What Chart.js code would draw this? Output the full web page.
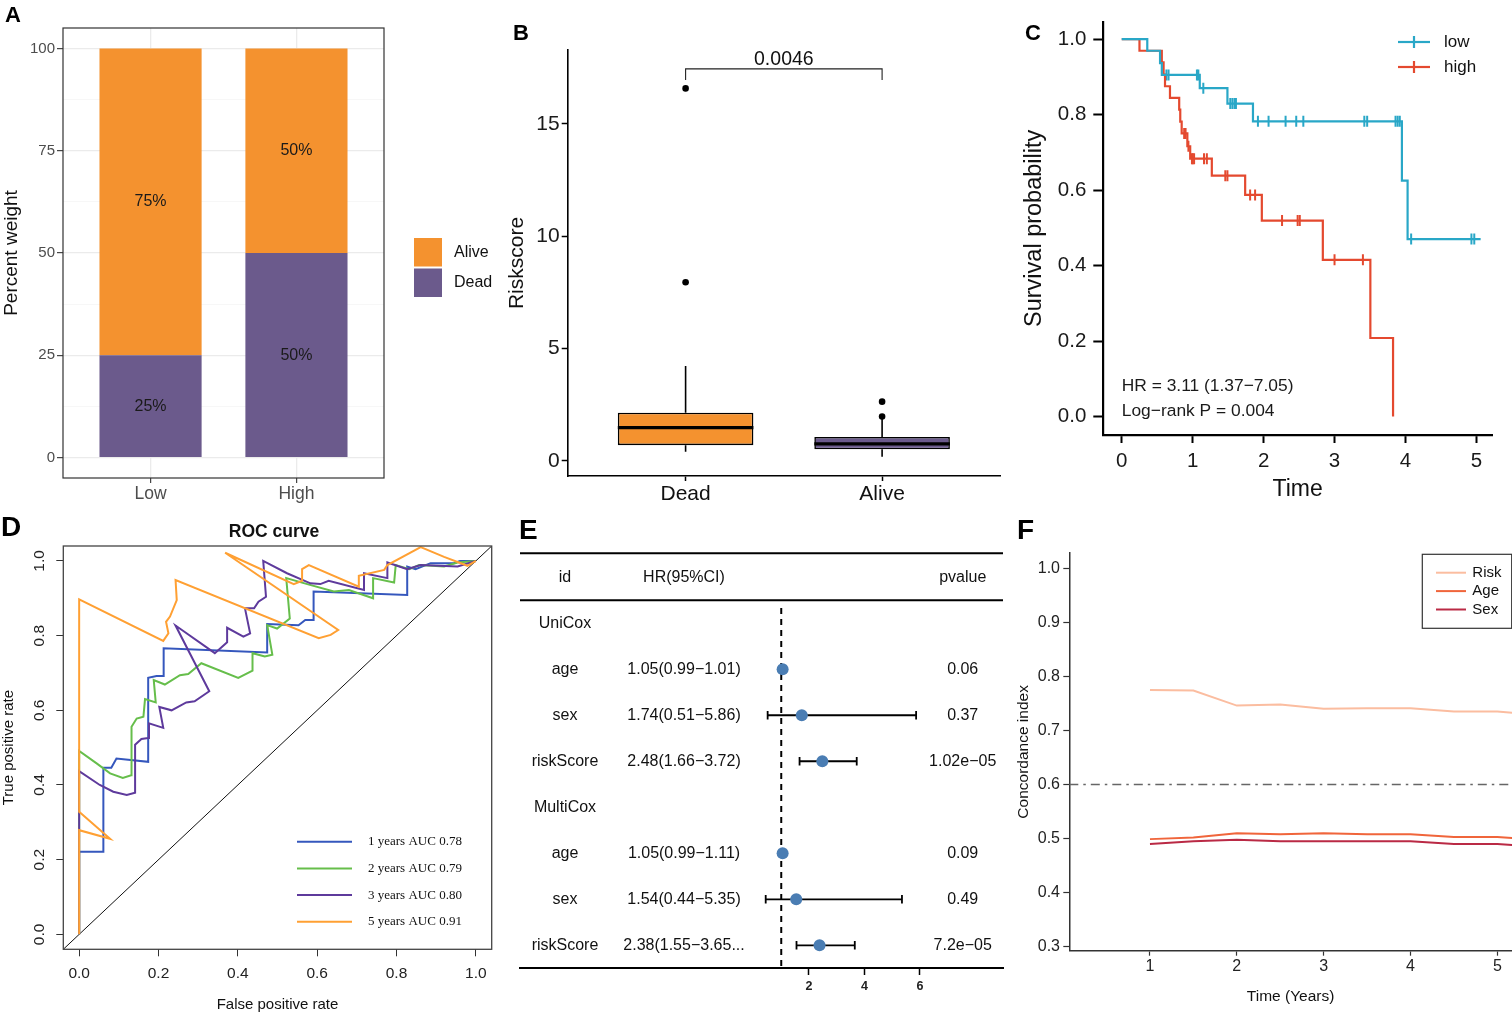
<!DOCTYPE html>
<html>
<head>
<meta charset="utf-8">
<title>Risk model figure</title>
<script src="https://cdn.jsdelivr.net/npm/chart.js@4.4.1/dist/chart.umd.min.js"></script>
<style>
  html, body { margin: 0; padding: 0; background: #fff; }
  #wrap { position: relative; width: 1512px; height: 1014px; overflow: hidden; background: #fff; }
  #wrap canvas { position: absolute; left: 0; top: 0; }
  .tag { position: absolute; font-family: "Liberation Sans", Arial, sans-serif; font-weight: bold; line-height: 1; color: #000; }
</style>
</head>
<body>
<div id="wrap">
  <canvas id="cA" width="1512" height="1014"></canvas>
  <canvas id="cB" width="1512" height="1014"></canvas>
  <canvas id="cC" width="1512" height="1014"></canvas>
  <canvas id="cD" width="1512" height="1014"></canvas>
  <canvas id="cE" width="1512" height="1014"></canvas>
  <canvas id="cF" width="1512" height="1014"></canvas>
  <div class="tag" style="left:5px;top:4px;font-size:22px">A</div>
  <div class="tag" style="left:513px;top:22px;font-size:22px">B</div>
  <div class="tag" style="left:1025px;top:22px;font-size:22px">C</div>
  <div class="tag" style="left:1px;top:513px;font-size:28px">D</div>
  <div class="tag" style="left:519px;top:516px;font-size:28px">E</div>
  <div class="tag" style="left:1017px;top:516px;font-size:28px">F</div>
</div>
<script>
// ---- A: outcome share per risk group ----
const riskGroups = ['Low', 'High'];
const deadPct = [25, 50];
const alivePct = [75, 50];
const pctTicks = [0, 25, 50, 75, 100];

// ---- B: risk score by status ----
const statusGroups = ['Dead', 'Alive'];
const boxLow = [0.41, 0.19];
const boxQ1 = [0.70, 0.52];
const boxMedian = [1.48, 0.76];
const boxQ3 = [2.15, 1.07];
const boxHigh = [4.23, 1.88];
const outliersDead = [7.95, 16.58];
const outliersAlive = [1.98, 2.64];
const riskTicks = [0, 5, 10, 15];
const pValueB = '0.0046';

// ---- C: Kaplan-Meier ----
const kmLowTime = [0, 0.36, 0.54, 0.565, 1.10, 1.49, 1.85, 3.95, 4.03, 5.06];
const kmLowSurv = [1, 0.969, 0.936, 0.905, 0.870, 0.829, 0.782, 0.625, 0.470, 0.470];
const kmLowCens = [0.63, 0.66, 1.06, 1.08, 1.15, 1.53, 1.56, 1.59, 1.61, 1.92, 2.07, 2.31, 2.46, 2.56, 3.42, 3.46, 3.86, 3.89, 3.92, 4.08, 4.93, 4.97];
const kmHighTime = [0, 0.25, 0.565, 0.59, 0.61, 0.68, 0.81, 0.825, 0.845, 0.925, 0.965, 1.27, 1.74, 1.975, 2.835, 3.505, 3.825];
const kmHighSurv = [1, 0.969, 0.938, 0.906, 0.875, 0.844, 0.813, 0.781, 0.750, 0.716, 0.683, 0.638, 0.587, 0.519, 0.415, 0.208, 0];
const kmHighCens = [0.88, 0.90, 0.94, 0.99, 1.00, 1.02, 1.16, 1.20, 1.46, 1.49, 1.81, 1.88, 2.26, 2.48, 2.51, 3.00, 3.40];
const kmTicksX = [0, 1, 2, 3, 4, 5];
const kmTicksY = [0, 0.2, 0.4, 0.6, 0.8, 1.0];
const kmLegend = ['low', 'high'];
const kmStats = ['HR = 3.11 (1.37\u22127.05)', 'Log\u2212rank P = 0.004'];

// ---- D: ROC ----
const roc1Fpr = [0, 0, 0.061, 0.061, 0.081, 0.094, 0.174, 0.174, 0.195, 0.213, 0.213, 0.474, 0.474, 0.553, 0.570, 0.591, 0.591, 0.827, 0.827, 0.848, 0.886, 0.945, 0.960, 1];
const roc1Tpr = [0, 0.221, 0.221, 0.446, 0.446, 0.471, 0.462, 0.687, 0.692, 0.692, 0.766, 0.755, 0.831, 0.828, 0.842, 0.842, 0.918, 0.909, 0.985, 0.978, 0.994, 0.994, 1.0, 1.0];
const roc2Fpr = [0, 0, 0.044, 0.078, 0.110, 0.131, 0.132, 0.145, 0.162, 0.166, 0.193, 0.188, 0.216, 0.254, 0.275, 0.308, 0.401, 0.437, 0.437, 0.468, 0.487, 0.474, 0.499, 0.531, 0.522, 0.575, 0.642, 0.680, 0.741, 0.741, 0.794, 0.798, 0.832, 0.857, 0.920, 0.954, 1];
const roc2Tpr = [0, 0.491, 0.458, 0.431, 0.419, 0.426, 0.556, 0.578, 0.583, 0.630, 0.621, 0.681, 0.669, 0.694, 0.697, 0.726, 0.687, 0.706, 0.753, 0.744, 0.749, 0.828, 0.819, 0.846, 0.954, 0.938, 0.918, 0.922, 0.900, 0.954, 0.942, 0.989, 0.978, 0.989, 0.985, 0.996, 1];
const roc3Fpr = [0, 0, 0, 0.052, 0.086, 0.120, 0.141, 0.141, 0.157, 0.174, 0.176, 0.212, 0.202, 0.233, 0.270, 0.291, 0.328, 0.243, 0.342, 0.373, 0.373, 0.414, 0.431, 0.418, 0.441, 0.452, 0.471, 0.464, 0.524, 0.583, 0.608, 0.629, 0.718, 0.718, 0.777, 0.777, 0.827, 0.861, 0.954, 1];
const roc3Tpr = [0, 0.283, 0.437, 0.400, 0.382, 0.373, 0.379, 0.508, 0.523, 0.526, 0.565, 0.553, 0.609, 0.600, 0.621, 0.624, 0.651, 0.827, 0.753, 0.782, 0.821, 0.797, 0.806, 0.873, 0.873, 0.891, 0.904, 1.0, 0.967, 0.940, 0.938, 0.947, 0.922, 0.967, 0.954, 0.996, 0.978, 0.989, 0.985, 1];
const roc5Fpr = [0, 0, 0.078, 0, 0, 0.212, 0.225, 0.219, 0.229, 0.246, 0.243, 0.604, 0.634, 0.653, 0.368, 0.541, 0.562, 0.562, 0.579, 0.705, 0.705, 0.769, 0.777, 0.861, 0.920, 0.979, 1];
const roc5Tpr = [0, 0.279, 0.256, 0.328, 0.897, 0.786, 0.806, 0.837, 0.851, 0.895, 0.949, 0.793, 0.802, 0.815, 1.022, 0.938, 0.947, 0.978, 0.989, 0.931, 0.960, 0.976, 0.989, 1.037, 1.011, 0.987, 1];
const rocLabels = ['1 years AUC 0.78', '2 years AUC 0.79', '3 years AUC 0.80', '5 years AUC 0.91'];
const rocTicks = [0, 0.2, 0.4, 0.6, 0.8, 1.0];

// ---- E: Cox forest ----
const coxSections = ['UniCox', 'MultiCox'];
const coxVars = ['age', 'sex', 'riskScore'];
const uniHR = [1.05, 1.74, 2.48];
const uniLo = [0.99, 0.51, 1.66];
const uniHi = [1.01, 5.86, 3.72];
const uniHRText = ['1.05(0.99\u22121.01)', '1.74(0.51\u22125.86)', '2.48(1.66\u22123.72)'];
const uniP = ['0.06', '0.37', '1.02e\u221205'];
const multiHR = [1.05, 1.54, 2.38];
const multiLo = [0.99, 0.44, 1.55];
const multiHi = [1.11, 5.35, 3.65];
const multiHRText = ['1.05(0.99\u22121.11)', '1.54(0.44\u22125.35)', '2.38(1.55\u22123.65...'];
const multiP = ['0.09', '0.49', '7.2e\u221205'];
const hrTicks = [2, 4, 6];

// ---- F: concordance over time ----
const cTimes = [1, 1.5, 2, 2.5, 3, 3.5, 4, 4.5, 5, 5.5];
const cRisk = [0.775, 0.774, 0.746, 0.748, 0.740, 0.741, 0.741, 0.735, 0.735, 0.729];
const cAge = [0.499, 0.502, 0.510, 0.508, 0.510, 0.508, 0.508, 0.503, 0.503, 0.497];
const cSex = [0.490, 0.495, 0.498, 0.495, 0.495, 0.495, 0.495, 0.490, 0.490, 0.484];
const cTicksX = [1, 2, 3, 4, 5];
const cTicksY = [0.3, 0.4, 0.5, 0.6, 0.7, 0.8, 0.9, 1.0];
const cLabels = ['Risk', 'Age', 'Sex'];
const cIndexRef = 0.6;

// ---------------------------------------------------------------
const W = 1512, H = 1014;
const SANS = '"Liberation Sans", Arial, Helvetica, sans-serif';
const SERIF = '"Liberation Serif", "Times New Roman", serif';
Chart.defaults.font.family = SANS;
Chart.defaults.color = '#222';
Chart.defaults.animation = false;
Chart.defaults.responsive = false;
Chart.defaults.plugins.legend.display = false;
Chart.defaults.plugins.tooltip.enabled = false;

const ORANGE = '#F4922F', PURPLE = '#6B5A8C';
const CYAN = '#29A7C7', RED = '#E4492F';
const ROC_COLORS = ['#3557BD', '#66BE4B', '#5E3A9C', '#FFA033'];
const F_COLORS = ['#FBBDA0', '#F0653B', '#BA2A45'];

// every canvas covers the whole page, the chart area is pinned with padding + fixed axis sizes
function layoutFor(area, yHidden) {
  return { autoPadding: false, padding: { left: yHidden ? area.l : 0, top: area.t, right: W - area.r, bottom: 0 } };
}
const yFit = area => s => { s.width = area.l; };
const xFit = area => s => { s.height = H - area.b; };
const fixedTicks = values => s => { s.ticks = values.map(v => ({ value: v })); };
const xTitle = (text, size, cy) => ({ display: true, text, font: { size }, color: '#111', padding: { top: 0, bottom: H - cy - size * 0.6 } });
const yTitle = (text, size, cx) => ({ display: true, text, font: { size }, color: '#111', padding: { top: Math.max(0, cx - size * 0.6), bottom: 0 } });
const fnt = (size, weight, fam) => `${weight || 'normal'} ${size}px ${fam || SANS}`;

function drawText(ctx, str, x, y, font, o = {}) {
  ctx.save();
  ctx.font = font;
  ctx.fillStyle = o.color || '#000';
  ctx.textAlign = o.align || 'center';
  ctx.textBaseline = o.base || 'middle';
  ctx.translate(x, y);
  if (o.rot) ctx.rotate(o.rot);
  ctx.fillText(str, 0, 0);
  ctx.restore();
}
function drawLine(ctx, x1, y1, x2, y2, color, width, dash) {
  ctx.save();
  ctx.strokeStyle = color;
  ctx.lineWidth = width;
  if (dash) ctx.setLineDash(dash);
  ctx.beginPath();
  ctx.moveTo(x1, y1);
  ctx.lineTo(x2, y2);
  ctx.stroke();
  ctx.restore();
}
function survAt(times, surv, t) {
  let s = surv[0];
  times.forEach((tt, i) => { if (tt <= t) s = surv[i]; });
  return s;
}

// ================= A =================
const areaA = { l: 63, t: 28, r: 384, b: 478 };
const minorA = pctTicks.slice(1).map((v, i) => (v + pctTicks[i]) / 2);
const isMajorA = v => pctTicks.includes(v);
new Chart(document.getElementById('cA'), {
  type: 'bar',
  data: {
    datasets: [
      { label: 'Dead', data: riskGroups.map((g, i) => ({ x: i + 1, y: [0, deadPct[i]] })), backgroundColor: PURPLE },
      { label: 'Alive', data: riskGroups.map((g, i) => ({ x: i + 1, y: [deadPct[i], deadPct[i] + alivePct[i]] })), backgroundColor: ORANGE }
    ]
  },
  options: {
    layout: layoutFor(areaA),
    datasets: { bar: { grouped: false, barPercentage: 0.7, categoryPercentage: 1, borderWidth: 0 } },
    scales: {
      x: {
        type: 'linear', min: 0.4, max: 2.6, offset: false,
        afterFit: xFit(areaA), afterBuildTicks: fixedTicks(riskGroups.map((g, i) => i + 1)),
        ticks: { callback: v => riskGroups[v - 1], color: '#4D4D4D', font: { size: 17.5 }, padding: 0.5, maxRotation: 0, autoSkip: false },
        grid: { offset: false, color: '#EBEBEB', lineWidth: 1.3, tickColor: '#333', tickLength: 5, tickWidth: 1.1 },
        border: { display: false }
      },
      y: {
        min: -5, max: 105,
        afterFit: yFit(areaA), afterBuildTicks: fixedTicks([...pctTicks, ...minorA].sort((a, b) => a - b)),
        ticks: { callback: v => (isMajorA(v) ? String(v) : ''), color: '#4D4D4D', font: { size: 15 }, padding: 2, autoSkip: false },
        grid: {
          color: c => (c.tick && isMajorA(c.tick.value) ? '#EBEBEB' : '#F3F3F3'),
          lineWidth: c => (c.tick && isMajorA(c.tick.value) ? 1.3 : 0.7),
          tickColor: c => (c.tick && isMajorA(c.tick.value) ? '#333' : 'rgba(0,0,0,0)'),
          tickLength: 6, tickWidth: 1.1
        },
        border: { display: false },
        title: yTitle('Percent weight', 19, 12)
      }
    }
  },
  plugins: [{
    id: 'panelA',
    afterDatasetsDraw(chart) {
      const { ctx, chartArea: a, scales: { x, y } } = chart;
      riskGroups.forEach((g, i) => {
        const cx = x.getPixelForValue(i + 1);
        drawText(ctx, deadPct[i] + '%', cx, y.getPixelForValue(deadPct[i] / 2), fnt(16), { color: '#1a1a1a' });
        drawText(ctx, alivePct[i] + '%', cx, y.getPixelForValue(deadPct[i] + alivePct[i] / 2), fnt(16), { color: '#1a1a1a' });
      });
      ctx.save();
      ctx.strokeStyle = '#333';
      ctx.lineWidth = 1.2;
      ctx.strokeRect(a.left, a.top, a.right - a.left, a.bottom - a.top);
      ctx.restore();
      const lx = a.right + 30;
      [chart.data.datasets[1], chart.data.datasets[0]].forEach((ds, i) => {
        const top = 238 + i * 30.5;
        ctx.fillStyle = ds.backgroundColor;
        ctx.fillRect(lx, top, 28, 28.5);
        drawText(ctx, ds.label, lx + 40, top + 14.5, fnt(16), { align: 'left', color: '#111' });
      });
    }
  }]
});

// ================= B =================
const areaB = { l: 567.7, t: 50, r: 1000, b: 476 };
const whiskerPts = [];
statusGroups.forEach((g, i) => {
  whiskerPts.push({ x: i + 1, y: boxQ3[i] }, { x: i + 1, y: boxHigh[i] }, { x: i + 1, y: null },
                  { x: i + 1, y: boxQ1[i] }, { x: i + 1, y: boxLow[i] }, { x: i + 1, y: null });
});
new Chart(document.getElementById('cB'), {
  type: 'bar',
  data: {
    datasets: [
      {
        type: 'bar', data: statusGroups.map((g, i) => ({ x: i + 1, y: [boxQ1[i], boxQ3[i]] })),
        backgroundColor: [ORANGE, PURPLE], borderColor: '#000', borderWidth: 1.6, borderSkipped: false,
        grouped: false, barPercentage: 0.69, categoryPercentage: 1, order: 1
      },
      { type: 'line', data: whiskerPts, borderColor: '#000', borderWidth: 1.6, pointRadius: 0, spanGaps: false, order: 2 },
      {
        type: 'line', showLine: false, order: 0,
        data: [...outliersDead.map(v => ({ x: 1, y: v })), ...outliersAlive.map(v => ({ x: 2, y: v }))],
        pointRadius: 3.3, pointBackgroundColor: '#000', pointBorderWidth: 0
      }
    ]
  },
  options: {
    layout: layoutFor(areaB),
    scales: {
      x: {
        type: 'linear', min: 0.4, max: 2.6, offset: false,
        afterFit: xFit(areaB), afterBuildTicks: fixedTicks(statusGroups.map((g, i) => i + 1)),
        ticks: { callback: v => statusGroups[v - 1], color: '#111', font: { size: 21 }, padding: 0.4, maxRotation: 0, autoSkip: false },
        grid: { offset: false, drawOnChartArea: false, tickColor: '#000', tickLength: 5, tickWidth: 1.5 },
        border: { color: '#000', width: 1.6 }
      },
      y: {
        min: -0.67, max: 18.29,
        afterFit: yFit(areaB), afterBuildTicks: fixedTicks(riskTicks),
        ticks: { color: '#1a1a1a', font: { size: 21 }, padding: 2 },
        grid: { drawOnChartArea: false, tickColor: '#000', tickLength: 6, tickWidth: 1.5 },
        border: { color: '#000', width: 1.6 },
        title: yTitle('Riskscore', 21, 517)
      }
    }
  },
  plugins: [{
    id: 'panelB',
    afterDatasetsDraw(chart) {
      const { ctx, scales: { x, y } } = chart;
      chart.getDatasetMeta(0).data.forEach((bar, i) => {
        const p = bar.getProps(['x', 'width'], true);
        const my = y.getPixelForValue(boxMedian[i]);
        drawLine(ctx, p.x - p.width / 2, my, p.x + p.width / 2, my, '#000', 3.2);
      });
      const x1 = x.getPixelForValue(1), x2 = x.getPixelForValue(2);
      const yb = y.getPixelForValue(17.45), yt = y.getPixelForValue(16.95);
      ctx.save();
      ctx.strokeStyle = '#222';
      ctx.lineWidth = 1.1;
      ctx.beginPath();
      ctx.moveTo(x1, yt); ctx.lineTo(x1, yb); ctx.lineTo(x2, yb); ctx.lineTo(x2, yt);
      ctx.stroke();
      ctx.restore();
      drawText(ctx, pValueB, (x1 + x2) / 2, yb - 4, fnt(19.5), { base: 'alphabetic', color: '#111' });
    }
  }]
});

// ================= C =================
const areaC = { l: 1103.3, t: 21.7, r: 1492, b: 435 };
const kmLine = (times, surv, color) => ({
  data: times.map((t, i) => ({ x: t, y: surv[i] })), borderColor: color, borderWidth: 2.2, stepped: true, pointRadius: 0
});
const kmCens = (cens, times, surv, color) => ({
  data: cens.map(t => ({ x: t, y: survAt(times, surv, t) })), showLine: false, borderColor: color,
  pointStyle: 'line', pointRotation: 90, pointRadius: 5.5, pointBorderWidth: 2, pointBorderColor: color
});
new Chart(document.getElementById('cC'), {
  type: 'line',
  data: {
    datasets: [
      kmLine(kmLowTime, kmLowSurv, CYAN),
      kmLine(kmHighTime, kmHighSurv, RED),
      kmCens(kmLowCens, kmLowTime, kmLowSurv, CYAN),
      kmCens(kmHighCens, kmHighTime, kmHighSurv, RED)
    ]
  },
  options: {
    layout: layoutFor(areaC),
    scales: {
      x: {
        type: 'linear', min: -0.26, max: 5.22,
        afterFit: xFit(areaC), afterBuildTicks: fixedTicks(kmTicksX),
        ticks: { color: '#1a1a1a', font: { size: 20.5 }, padding: 5.7, maxRotation: 0, autoSkip: false },
        grid: { drawOnChartArea: false, tickColor: '#000', tickLength: 8, tickWidth: 2 },
        border: { color: '#000', width: 2.2 },
        title: xTitle('Time', 23, 490)
      },
      y: {
        min: -0.049, max: 1.046,
        afterFit: yFit(areaC), afterBuildTicks: fixedTicks(kmTicksY),
        ticks: { callback: v => v.toFixed(1), color: '#1a1a1a', font: { size: 20.5 }, padding: 7 },
        grid: { drawOnChartArea: false, tickColor: '#000', tickLength: 10, tickWidth: 2 },
        border: { color: '#000', width: 2.2 },
        title: yTitle('Survival probability', 23.5, 1035)
      }
    }
  },
  plugins: [{
    id: 'panelC',
    afterDraw(chart) {
      const { ctx, chartArea: a, scales: { x } } = chart;
      [CYAN, RED].forEach((col, i) => {
        const yy = 42 + i * 25;
        drawLine(ctx, a.right - 94, yy, a.right - 62, yy, col, 2.2);
        drawLine(ctx, a.right - 78, yy - 6, a.right - 78, yy + 6, col, 2.2);
        drawText(ctx, kmLegend[i], a.right - 48, yy, fnt(17), { align: 'left', color: '#111' });
      });
      kmStats.forEach((s, i) => {
        drawText(ctx, s, x.getPixelForValue(0), 386 + i * 25.7, fnt(17.4), { align: 'left', color: '#1a1a1a' });
      });
    }
  }]
});

// ================= D =================
const areaD = { l: 63.3, t: 546, r: 491.7, b: 949.3 };
const rocRange = [-0.04, 1.04];
const rocSets = [[roc1Fpr, roc1Tpr], [roc2Fpr, roc2Tpr], [roc3Fpr, roc3Tpr], [roc5Fpr, roc5Tpr]];
new Chart(document.getElementById('cD'), {
  type: 'line',
  data: {
    datasets: [
      ...rocSets.map(([fx, ty], k) => ({
        data: fx.map((v, i) => ({ x: v, y: ty[i] })), borderColor: ROC_COLORS[k], borderWidth: 2,
        pointRadius: 0, tension: 0, order: 4 - k
      })),
      { data: rocRange.map(v => ({ x: v, y: v })), borderColor: '#111', borderWidth: 1, pointRadius: 0, order: 5 }
    ]
  },
  options: {
    layout: layoutFor(areaD),
    scales: {
      x: {
        type: 'linear', min: rocRange[0], max: rocRange[1],
        afterFit: xFit(areaD), afterBuildTicks: fixedTicks(rocTicks),
        ticks: { callback: v => v.toFixed(1), color: '#222', font: { size: 15.5 }, padding: 7.7, maxRotation: 0, autoSkip: false },
        grid: { drawOnChartArea: false, tickColor: '#333', tickLength: 7, tickWidth: 1 },
        border: { display: false },
        title: xTitle('False positive rate', 15, 1005)
      },
      y: {
        min: rocRange[0], max: rocRange[1],
        afterFit: yFit(areaD), afterBuildTicks: fixedTicks(rocTicks),
        ticks: { display: false },
        grid: { drawOnChartArea: false, tickColor: '#333', tickLength: 7, tickWidth: 1 },
        border: { display: false },
        title: yTitle('True positive rate', 15, 9)
      }
    }
  },
  plugins: [{
    id: 'panelD',
    afterDraw(chart) {
      const { ctx, chartArea: a, scales: { y } } = chart;
      ctx.save();
      ctx.strokeStyle = '#444';
      ctx.lineWidth = 1.3;
      ctx.strokeRect(a.left, a.top, a.right - a.left, a.bottom - a.top);
      ctx.restore();
      rocTicks.forEach(v => {
        drawText(ctx, v.toFixed(1), a.left - 24, y.getPixelForValue(v), fnt(15.5), { color: '#222', rot: -Math.PI / 2 });
      });
      drawText(ctx, 'ROC curve', (a.left + a.right) / 2 - 3.5, 532, fnt(17.5, 'bold'), { color: '#111' });
      rocLabels.forEach((lab, i) => {
        const yy = 841.7 + i * 26.7;
        drawLine(ctx, 297, yy, 352, yy, ROC_COLORS[i], 2);
        drawText(ctx, lab, 368, yy, fnt(13, 'normal', SERIF), { align: 'left', color: '#111' });
      });
    }
  }]
});

// ================= E =================
const areaE = { l: 520, t: 553.3, r: 1003, b: 968.3 };
const hrRef = 1;
const coxRows = [];
[[uniHR, uniLo, uniHi, uniHRText, uniP], [multiHR, multiLo, multiHi, multiHRText, multiP]].forEach(([hr, lo, hi, txt, p], s) => {
  coxVars.forEach((v, j) => coxRows.push({ row: 2 + s * 4 + j, id: v, hr: hr[j], lo: lo[j], hi: hi[j], txt: txt[j], p: p[j] }));
});
const ciPts = [];
coxRows.forEach(r => ciPts.push({ x: r.lo, y: r.row }, { x: r.hi, y: r.row }, { x: r.hi, y: null }));
new Chart(document.getElementById('cE'), {
  type: 'line',
  data: {
    datasets: [
      { data: coxRows.map(r => ({ x: r.hr, y: r.row })), showLine: false, pointRadius: 6, pointBackgroundColor: '#4A7DB3', pointBorderWidth: 0, order: 0 },
      {
        data: ciPts, borderColor: '#000', borderWidth: 1.8, spanGaps: false, order: 1,
        pointStyle: 'line', pointRotation: 90, pointRadius: 4.3, pointBorderWidth: 1.8, pointBorderColor: '#000'
      },
      { data: [{ x: hrRef, y: 0.67 }, { x: hrRef, y: 8.5 }], borderColor: '#000', borderWidth: 2, borderDash: [6, 5], pointRadius: 0, order: 2 }
    ]
  },
  options: {
    layout: layoutFor(areaE, true),
    scales: {
      x: {
        type: 'linear', min: -8.414, max: 8.991,
        afterFit: xFit(areaE), afterBuildTicks: fixedTicks(hrTicks),
        ticks: { color: '#222', font: { size: 12.5, weight: 'bold' }, padding: 4.3, maxRotation: 0, autoSkip: false },
        grid: { drawOnChartArea: false, tickColor: '#000', tickLength: 6.7, tickWidth: 1.5 },
        border: { color: '#000', width: 2 }
      },
      y: { display: false, reverse: true, min: -0.52, max: 8.5 }
    }
  },
  plugins: [{
    id: 'panelE',
    afterDraw(chart) {
      const { ctx, chartArea: a, scales: { y } } = chart;
      const colId = a.left + 45, colHR = a.left + 164, colP = a.left + 442.7;
      drawLine(ctx, a.left, a.top, a.right, a.top, '#000', 2);
      drawLine(ctx, a.left, y.getPixelForValue(0.5), a.right, y.getPixelForValue(0.5), '#000', 2);
      const F = fnt(16), C = '#111';
      const y0 = y.getPixelForValue(0);
      drawText(ctx, 'id', colId, y0, F, { color: C });
      drawText(ctx, 'HR(95%CI)', colHR, y0, F, { color: C });
      drawText(ctx, 'pvalue', colP, y0, F, { color: C });
      coxSections.forEach((s, i) => drawText(ctx, s, colId, y.getPixelForValue(1 + i * 4), F, { color: C }));
      coxRows.forEach(r => {
        const yy = y.getPixelForValue(r.row);
        drawText(ctx, r.id, colId, yy, F, { color: C });
        drawText(ctx, r.txt, colHR, yy, F, { color: C });
        drawText(ctx, r.p, colP, yy, F, { color: C });
      });
    }
  }]
});

// ================= F =================
const areaF = { l: 1069.3, t: 553, r: 1512, b: 950.7 };
const fRange = [0.071, 5.169];
new Chart(document.getElementById('cF'), {
  type: 'line',
  data: {
    datasets: [
      ...[cRisk, cAge, cSex].map((vals, k) => ({
        label: cLabels[k], data: cTimes.map((t, i) => ({ x: t, y: vals[i] })),
        borderColor: F_COLORS[k], borderWidth: 2, pointRadius: 0
      })),
      {
        data: fRange.map(v => ({ x: v, y: cIndexRef })), borderColor: '#666', borderWidth: 1.6,
        borderDash: [9, 5, 2.5, 5], pointRadius: 0
      }
    ]
  },
  options: {
    layout: layoutFor(areaF),
    scales: {
      x: {
        type: 'linear', min: fRange[0], max: fRange[1],
        afterFit: xFit(areaF), afterBuildTicks: fixedTicks(cTicksX),
        ticks: { color: '#222', font: { size: 16 }, padding: 1.4, maxRotation: 0, autoSkip: false },
        grid: { drawOnChartArea: false, tickColor: '#333', tickLength: 5, tickWidth: 1.2 },
        border: { color: '#333', width: 1.5 },
        title: xTitle('Time (Years)', 15.5, 996.7)
      },
      y: {
        min: 0.2926, max: 1.0283,
        afterFit: yFit(areaF), afterBuildTicks: fixedTicks(cTicksY),
        ticks: { callback: v => v.toFixed(1), color: '#222', font: { size: 16 }, padding: 3.3 },
        grid: { drawOnChartArea: false, tickColor: '#333', tickLength: 6, tickWidth: 1.2 },
        border: { color: '#333', width: 1.5 },
        title: yTitle('Concordance index', 15.5, 1024)
      }
    }
  },
  plugins: [{
    id: 'panelF',
    afterDraw(chart) {
      const { ctx } = chart;
      ctx.save();
      ctx.strokeStyle = '#333';
      ctx.lineWidth = 1.2;
      ctx.strokeRect(1422.3, 554.3, 89.4, 74);
      ctx.restore();
      cLabels.forEach((lab, i) => {
        const yy = 572.7 + i * 18.4;
        drawLine(ctx, 1436, yy, 1466, yy, F_COLORS[i], 2);
        drawText(ctx, lab, 1472.3, yy, fnt(15), { align: 'left', color: '#111' });
      });
    }
  }]
});
</script>
</body>
</html>
